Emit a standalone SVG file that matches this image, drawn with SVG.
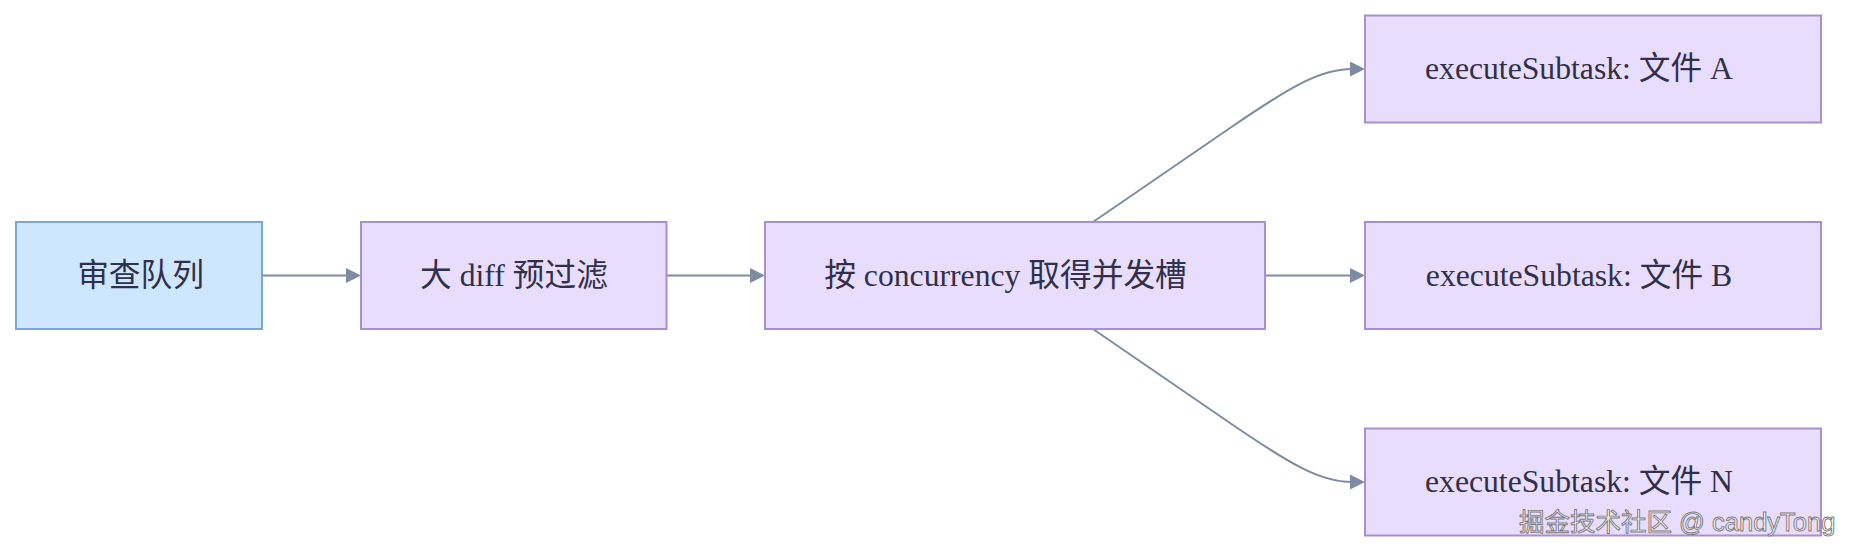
<svg xmlns="http://www.w3.org/2000/svg" width="1854" height="556" viewBox="0 0 1854 556">
<style>
.node rect{stroke-width:2}
.blue rect{fill:#cfe6ff;stroke:#7ca6d6}
.purple rect{fill:#e8ddfd;stroke:#a78fd5}
.label{font-family:"Liberation Serif","Noto Sans CJK SC",serif;font-size:31.7px;fill:#30304a;text-anchor:middle}
.edge{fill:none;stroke:#7d8ca3;stroke-width:2}
.wm{font-family:"Liberation Sans","Noto Sans CJK SC",sans-serif;font-size:25.5px;fill:#f6f2fc;stroke:#7a7a7a;stroke-width:0.9}
</style>
<defs>
<marker id="arrow" markerUnits="userSpaceOnUse" markerWidth="15" markerHeight="15" refX="2" refY="7.5" orient="auto">
<path d="M0,0 L15,7.5 L0,15 z" fill="#7d8ca3"/>
</marker>
</defs>
<rect width="1854" height="556" fill="#ffffff"/>
<g id="connectors">
<path class="edge" d="M262,275.5 L348,275.5" marker-end="url(#arrow)"/>
<path class="edge" d="M666.5,275.5 L752,275.5" marker-end="url(#arrow)"/>
<path class="edge" d="M1093,222 L1230,128 C1290,87 1320,69 1352,69" marker-end="url(#arrow)"/>
<path class="edge" d="M1265,275.5 L1352,275.5" marker-end="url(#arrow)"/>
<path class="edge" d="M1093,329 L1230,423 C1290,464 1320,482 1352,482" marker-end="url(#arrow)"/>
</g>
<g id="queue" class="node blue">
<rect x="16" y="222" width="246" height="107"/>
<text class="label" x="140.5" y="285.5">审查队列</text>
</g>
<g id="prefilter" class="node purple">
<rect x="361" y="222" width="305.5" height="107"/>
<text class="label" x="514" y="285.5">大 diff 预过滤</text>
</g>
<g id="slots" class="node purple">
<rect x="765" y="222" width="500" height="107"/>
<text class="label" x="1005.5" y="285.5">按 concurrency 取得并发槽</text>
</g>
<g id="subtaskA" class="node purple">
<rect x="1365" y="15.5" width="456" height="107"/>
<text class="label" x="1579" y="79">executeSubtask: 文件 A</text>
</g>
<g id="subtaskB" class="node purple">
<rect x="1365" y="222" width="456" height="107"/>
<text class="label" x="1579" y="285.5">executeSubtask: 文件 B</text>
</g>
<g id="subtaskN" class="node purple">
<rect x="1365" y="428.5" width="456" height="107"/>
<text class="label" x="1579" y="492">executeSubtask: 文件 N</text>
</g>
<text class="wm" x="1519" y="531">掘金技术社区 @ candyTong</text>
</svg>
